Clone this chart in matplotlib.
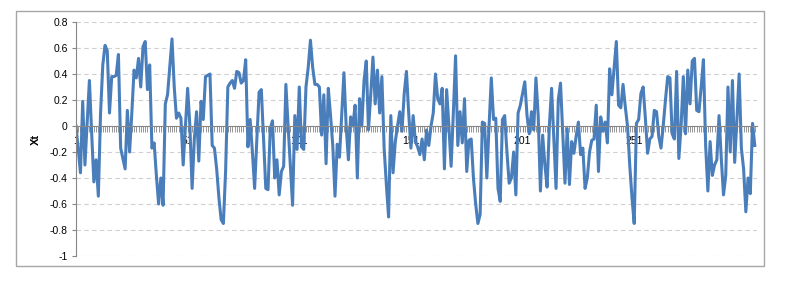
import matplotlib
matplotlib.use("Agg")
import matplotlib.pyplot as plt
from matplotlib.patches import Rectangle
import numpy as np

# значения ряда Xt (по 50 точек)
xt_1 = [0.00, -0.18, -0.36, 0.19, -0.30, 0.02, 0.35, -0.05, -0.43, -0.26,
        -0.54, 0.10, 0.47, 0.62, 0.58, 0.10, 0.38, 0.38, 0.39, 0.55,
        -0.17, -0.25, -0.33, 0.12, -0.20, 0.10, 0.43, 0.37, 0.52, 0.30,
        0.61, 0.65, 0.28, 0.47, -0.17, -0.13, -0.38, -0.60, -0.40, -0.61,
        0.17, 0.24, 0.45, 0.67, 0.30, 0.06, 0.10, 0.06, -0.30, 0.00]
xt_2 = [0.29, 0.00, -0.48, -0.10, 0.11, -0.27, 0.19, 0.05, 0.38, 0.39,
        0.40, -0.15, -0.17, -0.33, -0.55, -0.72, -0.75, -0.35, 0.30, 0.33,
        0.35, 0.29, 0.42, 0.41, 0.33, 0.35, 0.51, -0.16, 0.05, -0.20,
        -0.48, -0.10, 0.26, 0.28, -0.10, -0.48, -0.49, -0.02, 0.04, -0.40,
        -0.26, -0.53, -0.35, -0.31, 0.32, 0.00, -0.30, -0.61, 0.08, -0.18]
xt_3 = [0.30, -0.16, -0.18, 0.30, 0.45, 0.66, 0.45, 0.32, 0.32, 0.30,
        -0.07, 0.24, -0.29, 0.29, 0.08, -0.15, -0.54, -0.14, -0.24, 0.08,
        0.41, 0.00, -0.26, 0.07, 0.00, 0.16, -0.40, 0.21, 0.00, 0.35,
        0.50, -0.03, 0.24, 0.53, 0.17, 0.43, 0.10, 0.38, -0.17, -0.45,
        -0.70, 0.08, -0.36, -0.12, 0.00, 0.11, -0.04, 0.25, 0.42, 0.10]
xt_4 = [-0.17, 0.08, -0.12, -0.16, -0.22, -0.10, -0.26, -0.03, -0.15, 0.00,
        0.10, 0.40, 0.21, 0.17, 0.29, -0.33, 0.28, 0.00, -0.31, 0.10,
        0.54, -0.15, 0.11, -0.13, 0.21, -0.35, -0.11, -0.10, -0.40, -0.60,
        -0.75, -0.68, 0.03, 0.02, -0.40, 0.00, 0.37, 0.05, 0.06, -0.48,
        -0.58, 0.05, 0.08, -0.20, -0.44, -0.40, -0.20, -0.53, 0.10, 0.16]
xt_5 = [0.25, 0.34, 0.08, -0.06, 0.11, -0.03, 0.37, 0.08, -0.50, -0.07,
        -0.30, -0.47, 0.00, 0.29, -0.10, -0.48, 0.20, 0.33, -0.05, -0.44,
        -0.02, -0.45, -0.12, -0.21, -0.08, 0.03, -0.22, -0.17, -0.48, -0.40,
        -0.20, -0.11, -0.10, 0.16, -0.35, 0.07, -0.04, 0.03, -0.13, 0.44,
        0.24, 0.45, 0.65, 0.16, 0.14, 0.32, 0.15, 0.00, -0.30, -0.55]
xt_6 = [-0.75, 0.02, 0.05, 0.25, 0.30, 0.06, -0.21, -0.10, -0.08, 0.12,
        0.11, -0.08, -0.17, 0.00, 0.20, 0.38, 0.37, -0.06, -0.10, 0.42,
        -0.25, 0.00, 0.38, -0.06, 0.43, 0.17, 0.50, 0.52, 0.12, 0.11,
        0.30, 0.51, -0.15, -0.50, -0.12, -0.38, -0.30, -0.26, 0.08, -0.25,
        -0.53, -0.38, 0.30, -0.20, 0.35, -0.28, 0.05, 0.40, -0.17, -0.33,
        -0.66, -0.40, -0.52, 0.02, -0.15]

xt = xt_1 + xt_2 + xt_3 + xt_4 + xt_5 + xt_6
t = np.arange(1, len(xt) + 1)

x_labels = [1, 51, 101, 151, 201, 251]
y_ticks = [0.8, 0.6, 0.4, 0.2, 0, -0.2, -0.4, -0.6, -0.8, -1]

plt.rcParams['font.family'] = ['Liberation Sans', 'DejaVu Sans']

fig = plt.figure(figsize=(7.87, 2.88), dpi=100)
# рамка области диаграммы
fig.patches.append(Rectangle((16 / 787, 1 - 266 / 288), 748 / 787, 255 / 288,
                             transform=fig.transFigure, fill=False,
                             edgecolor='#a6a6a6', linewidth=1))

ax = fig.add_axes([76 / 787, 1 - 256 / 288, 681 / 787, 234 / 288])
ax.plot(t, xt, color='#4a7ebb', linewidth=2.2, solid_joinstyle='round')

ax.set_xlim(1, len(xt) + 1)
ax.set_ylim(-1, 0.8)
ax.set_yticks(y_ticks)
ax.set_yticklabels([f"{v:g}" for v in y_ticks])
ax.yaxis.grid(True, color='#d0d0d0', linestyle=(0, (4, 3)), linewidth=0.8)
ax.set_axisbelow(True)

ax.spines['top'].set_visible(False)
ax.spines['right'].set_visible(False)
ax.spines['left'].set_color('#868686')
ax.spines['bottom'].set_position(('data', 0))
ax.spines['bottom'].set_color('#868686')

ax.set_xticks(x_labels)
ax.set_xticklabels([str(v) for v in x_labels])
ax.set_xticks(t, minor=True)
ax.tick_params(axis='x', which='both', direction='out', length=4,
               color='#868686', labelsize=7.5, pad=3)
ax.tick_params(axis='y', direction='out', length=3, color='#868686',
               labelsize=7.5, pad=3)

ax.set_ylabel("Xt", fontsize=8, fontweight='bold')
ax.yaxis.set_label_coords(-0.051, 0.5)

fig.savefig("out.png", dpi=100)
